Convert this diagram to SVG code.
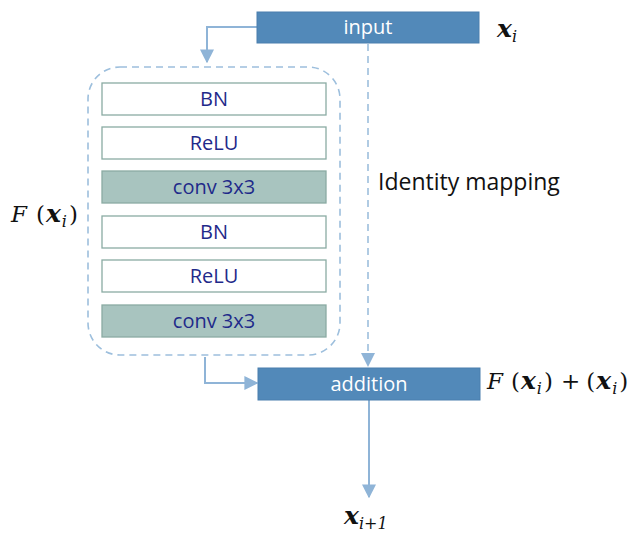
<svg xmlns="http://www.w3.org/2000/svg" width="627" height="534" viewBox="0 0 627 534">
<style>
.blue{fill:#5289b9;stroke:#4a7fae;stroke-width:1}
.wbox{fill:#ffffff;stroke:#8aaba3;stroke-width:1.3}
.gbox{fill:#a8c4bf;stroke:#8aaba3;stroke-width:1.3}
.lbl{font-family:"Open Sans","Liberation Sans",sans-serif;font-size:20px;fill:#1f2a8a;text-anchor:middle}
.wlbl{font-family:"Open Sans","Liberation Sans",sans-serif;font-size:20px;fill:#ffffff;text-anchor:middle}
.conn{fill:none;stroke:#8fb4d7;stroke-width:2}
.dash{fill:none;stroke:#9dbfdd;stroke-width:1.6;stroke-dasharray:7 5}
.math{font-family:"DejaVu Serif","Liberation Serif",serif;font-size:23px;fill:#111}
.bx{font-weight:bold;font-style:italic;font-size:25px}
.sub{font-style:italic;font-size:16px}
</style>
<defs>
<marker id="ah" viewBox="0 0 10 10" refX="9" refY="5" markerWidth="7" markerHeight="7" orient="auto" markerUnits="strokeWidth">
<path d="M0,0 L10,5 L0,10 z" fill="#8fb4d7"/>
</marker>
</defs>
<g id="connectors">
<path class="conn" d="M257,27 H207 V62" marker-end="url(#ah)"/>
<path class="dash" d="M368,44 V354"/>
<path d="M361,353 L375,353 L368,367 z" fill="#8fb4d7"/>
<path class="conn" d="M205,357 V383 H257" marker-end="url(#ah)"/>
<path class="conn" d="M369,400 V497" marker-end="url(#ah)"/>
<rect class="dash" x="88" y="67" width="252" height="288" rx="32" ry="32"/>
</g>
<g id="input"><rect class="blue" x="257" y="12" width="222" height="31"/><text class="wlbl" x="368" y="34">input</text></g>
<g id="bn1"><rect class="wbox" x="102" y="83" width="224" height="32"/><text class="lbl" x="214" y="106">BN</text></g>
<g id="relu1"><rect class="wbox" x="102" y="127" width="224" height="32"/><text class="lbl" x="214" y="150">ReLU</text></g>
<g id="conv1"><rect class="gbox" x="102" y="171" width="224" height="32"/><text class="lbl" x="214" y="194">conv 3x3</text></g>
<g id="bn2"><rect class="wbox" x="102" y="216" width="224" height="32"/><text class="lbl" x="214" y="239">BN</text></g>
<g id="relu2"><rect class="wbox" x="102" y="260" width="224" height="32"/><text class="lbl" x="214" y="283">ReLU</text></g>
<g id="conv2"><rect class="gbox" x="102" y="305" width="224" height="32"/><text class="lbl" x="214" y="328">conv 3x3</text></g>
<g id="addition"><rect class="blue" x="258" y="368" width="222" height="32"/><text class="wlbl" x="369" y="391">addition</text></g>
<g id="labels">
<text x="378" y="190" font-family="'Open Sans','Liberation Sans',sans-serif" font-size="23" fill="#111">Identity mapping</text>
<text class="math" x="497" y="37"><tspan class="bx">x</tspan><tspan class="sub" dy="5">i</tspan></text>
<text class="math" x="11" y="222"><tspan font-style="italic">F</tspan><tspan dx="9">(</tspan><tspan class="bx" dx="1">x</tspan><tspan class="sub" dx="1" dy="5">i</tspan><tspan dx="2" dy="-5">)</tspan></text>
<text class="math" x="487" y="389"><tspan font-style="italic">F</tspan><tspan dx="8">(</tspan><tspan class="bx" dx="1">x</tspan><tspan class="sub" dx="1" dy="5">i</tspan><tspan dx="2" dy="-5">)</tspan><tspan dx="8">+</tspan><tspan dx="6">(</tspan><tspan class="bx" dx="1">x</tspan><tspan class="sub" dx="1" dy="5">i</tspan><tspan dx="2" dy="-5">)</tspan></text>
<text class="math" x="344" y="524"><tspan class="bx">x</tspan><tspan class="sub" dy="5">i+1</tspan></text>
</g>
</svg>
